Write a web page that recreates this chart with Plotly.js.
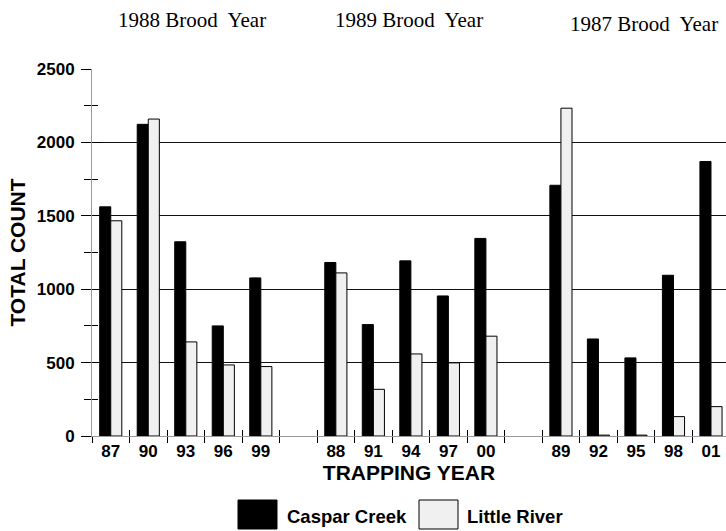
<!DOCTYPE html>
<html>
<head>
<meta charset="utf-8">
<script src="https://cdn.plot.ly/plotly-3.0.1.min.js"></script>
<style>
  html, body { margin: 0; padding: 0; background: #fff; overflow: hidden; }
  #chart { width: 726px; height: 531px; }
</style>
</head>
<body>
<div id="chart"></div>
<script>
// ---- data ----
const categories = ['87','90','93','96','99',' ','88','91','94','97','00','  ','89','92','95','98','01'];
const casparCreek = [1561, 2123, 1323, 750, 1077, null, 1182, 759, 1193, 954, 1346, null, 1708, 661, 532, 1095, 1870];
const littleRiver = [1466, 2159, 641, 484, 473, null, 1111, 318, 559, 498, 680, null, 2233, 6, 6, 132, 200];
const seriesNames = ['Caspar Creek', 'Little River'];
const broodYearLabels = ['1988 Brood  Year', '1989 Brood  Year', '1987 Brood  Year'];
const broodYearCenters = ['93', '94', '95'];
const yTickVals = [0, 500, 1000, 1500, 2000, 2500];

// ---- layout constants (pixels) ----
const W = 726, H = 531;
const M = {l: 92, r: 0, t: 69, b: 95};
const plotW = W - M.l - M.r, plotH = H - M.t - M.b;
const px = x => (x - M.l) / plotW;
const py = y => (H - M.b - y) / plotH;

const sans = 'Liberation Sans, Arial, Helvetica, sans-serif';
const serif = 'Liberation Serif, Times New Roman, serif';

const traces = [
  {
    type: 'bar', name: seriesNames[0], x: categories, y: casparCreek,
    marker: {color: '#000000', line: {color: '#000000', width: 1}},
    showlegend: false, hoverinfo: 'skip'
  },
  {
    type: 'bar', name: seriesNames[1], x: categories, y: littleRiver,
    marker: {color: '#f0f0f0', line: {color: '#000000', width: 1}},
    showlegend: false, hoverinfo: 'skip'
  },
  {
    // invisible carrier for the overlay axes that draw the inner half of the ticks
    type: 'scatter', mode: 'markers', x: categories, y: casparCreek,
    xaxis: 'x2', yaxis: 'y2', marker: {opacity: 0, size: 1},
    showlegend: false, hoverinfo: 'skip'
  }
];

const xRange = [-0.5, 16.4];
const broodAnn = (i, shift, yPix) => ({
  text: broodYearLabels[i], xref: 'x', yref: 'paper',
  x: categories.indexOf(broodYearCenters[i]), xshift: shift, y: py(yPix),
  xanchor: 'center', yanchor: 'middle', showarrow: false,
  font: {family: serif, size: 21, color: '#000'}
});

const layout = {
  width: W, height: H,
  margin: M,
  paper_bgcolor: '#ffffff', plot_bgcolor: '#ffffff',
  barmode: 'group', bargap: 0.41, bargroupgap: 0,
  font: {family: sans, color: '#000'},
  xaxis: {
    type: 'category', categoryorder: 'array', categoryarray: categories,
    range: xRange, tickson: 'boundaries',
    ticks: 'outside', ticklen: 6, tickwidth: 1, tickcolor: '#000',
    showline: true, linecolor: '#999', linewidth: 1,
    showgrid: false, zeroline: false,
    tickfont: {family: sans, size: 17, weight: 'bold', color: '#000'},
    title: {text: 'TRAPPING YEAR', standoff: 4,
            font: {family: sans, size: 21, weight: 'bold', color: '#000'}}
  },
  yaxis: {
    range: [0, 2500], tickvals: yTickVals,
    ticks: 'outside', ticklen: 10, tickwidth: 1, tickcolor: '#000',
    minor: {dtick: 250, tick0: 0, ticks: 'outside', ticklen: 7, tickwidth: 1, tickcolor: '#000', showgrid: false},
    showline: true, linecolor: '#999', linewidth: 1,
    showgrid: true, gridcolor: '#111', gridwidth: 1, zeroline: false,
    tickfont: {family: sans, size: 17, weight: 'bold', color: '#000'},
    ticklabelstandoff: 3,
    title: {text: 'TOTAL COUNT', standoff: 5,
            font: {family: sans, size: 21, weight: 'bold', color: '#000'}}
  },
  xaxis2: {
    overlaying: 'x', type: 'category', categoryorder: 'array', categoryarray: categories,
    range: xRange, tickson: 'boundaries', side: 'bottom', anchor: 'y2',
    ticks: 'inside', ticklen: 6, tickwidth: 1, tickcolor: '#000',
    showticklabels: false, showline: false, showgrid: false, zeroline: false
  },
  yaxis2: {
    overlaying: 'y', side: 'left', anchor: 'x2', range: [0, 2500], tickvals: yTickVals,
    ticks: 'inside', ticklen: 10, tickwidth: 1, tickcolor: '#000',
    minor: {dtick: 250, tick0: 0, ticks: 'inside', ticklen: 6, tickwidth: 1, tickcolor: '#000', showgrid: false},
    showticklabels: false, showline: false, showgrid: false, zeroline: false
  },
  shapes: [
    {type: 'rect', xref: 'paper', yref: 'paper', x0: px(238), x1: px(277), y0: py(500), y1: py(529),
     fillcolor: '#000', line: {color: '#000', width: 1}},
    {type: 'rect', xref: 'paper', yref: 'paper', x0: px(419), x1: px(458), y0: py(500), y1: py(529),
     fillcolor: '#f0f0f0', line: {color: '#000', width: 1}}
  ],
  annotations: [
    {text: seriesNames[0], xref: 'paper', yref: 'paper', x: px(285), y: py(516),
     xanchor: 'left', yanchor: 'middle', showarrow: false,
     font: {family: sans, size: 18.5, weight: 'bold', color: '#000'}},
    {text: seriesNames[1], xref: 'paper', yref: 'paper', x: px(465), y: py(516),
     xanchor: 'left', yanchor: 'middle', showarrow: false,
     font: {family: sans, size: 18.5, weight: 'bold', color: '#000'}},
    broodAnn(0, 6, 20),
    broodAnn(1, -2, 20),
    broodAnn(2, 8, 24)
  ]
};

Plotly.newPlot('chart', traces, layout, {staticPlot: true, displayModeBar: false});
</script>
</body>
</html>
